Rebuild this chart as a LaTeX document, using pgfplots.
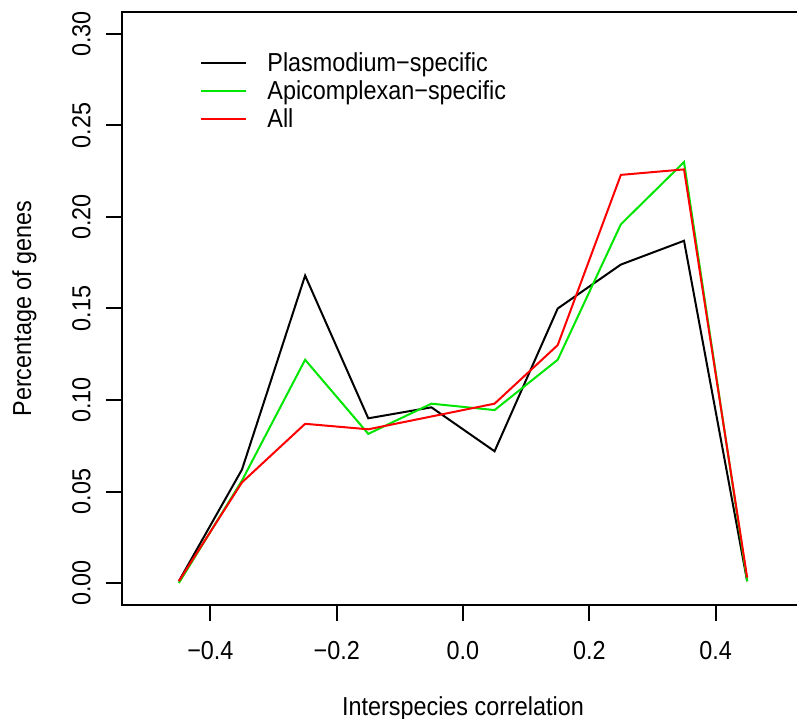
\documentclass[border=0pt]{standalone}
\usepackage{fontspec}
\setmainfont{Liberation Sans}[FakeStretch=0.9]
\usepackage{pgfplots}
\pgfplotsset{compat=1.18}
\definecolor{rgreen}{RGB}{0,230,0}
\definecolor{rred}{RGB}{255,0,0}
\begin{document}
\fontsize{13}{15}\selectfont
\begin{tikzpicture}
\path[use as bounding box, clip] (0,0) rectangle (398.5pt,359pt);
\begin{axis}[
  at={(61pt,56.5pt)}, anchor=south west,
  scale only axis, width=341pt, height=296.5pt,
  xmin=-0.54, xmax=0.54, ymin=-0.012, ymax=0.312,
  xtick={-0.4,-0.2,0,0.2,0.4},
  xticklabels={−0.4,−0.2,0.0,0.2,0.4},
  ytick={0,0.05,0.1,0.15,0.2,0.25,0.3},
  yticklabels={0.00,0.05,0.10,0.15,0.20,0.25,0.30},
  tick align=outside, major tick length=8pt,
  xtick pos=bottom, ytick pos=left,
  axis line style={line width=1pt},
  every tick/.style={black, line width=1pt},
  tick label style={font=\fontsize{13}{15}\selectfont, inner sep=0pt},
  xticklabel style={anchor=base, yshift=-19pt},
  yticklabel style={rotate=90, anchor=south},
  yticklabel shift=7.5pt,
  xlabel={Interspecies correlation},
  ylabel={Percentage of genes},
  every axis x label/.style={at={(axis description cs:0.5,-0.1855)}, anchor=base, inner sep=0pt},
  every axis y label/.style={at={(axis description cs:-0.1334,0.5)}, rotate=90, anchor=base, inner sep=0pt},
  legend cell align=left,
  legend image code/.code={\draw[#1, line width=1pt] (0pt,4.6pt) -- (22.5pt,4.6pt);},
  legend style={draw=none, fill=none, inner sep=0pt, row sep=2pt, column sep=10pt,
    at={(axis description cs:0.1144,0.9309)}, anchor=north west,
    nodes={inner sep=0pt, text height=9.3pt, text depth=2.7pt, anchor=base west},
    font=\fontsize{13}{15}\selectfont},
]
\addplot[black, line width=1pt] coordinates {
(-0.45,0.001) (-0.35,0.062) (-0.25,0.168) (-0.15,0.090) (-0.05,0.096)
(0.05,0.072) (0.15,0.150) (0.25,0.174) (0.35,0.187) (0.45,0.001)};
\addlegendentry{Plasmodium−specific}
\addplot[rgreen, line width=1pt] coordinates {
(-0.45,0.000) (-0.35,0.056) (-0.25,0.122) (-0.15,0.0815) (-0.05,0.098)
(0.05,0.0945) (0.15,0.122) (0.25,0.196) (0.35,0.230) (0.45,0.001)};
\addlegendentry{Apicomplexan−specific}
\addplot[rred, line width=1pt] coordinates {
(-0.45,0.001) (-0.35,0.055) (-0.25,0.087) (-0.15,0.084) (-0.05,0.091)
(0.05,0.098) (0.15,0.130) (0.25,0.223) (0.35,0.226) (0.45,0.003)};
\addlegendentry{All}
\end{axis}
\end{tikzpicture}
\end{document}
